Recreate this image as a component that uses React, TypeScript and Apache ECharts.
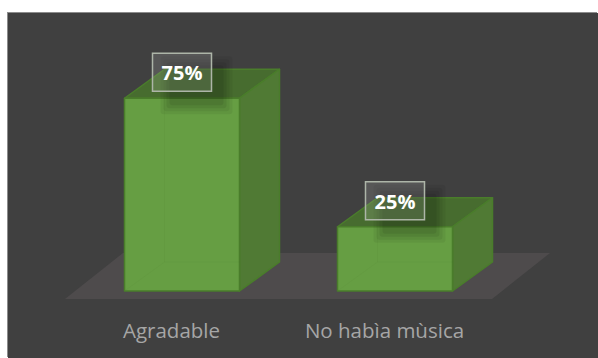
import React, { useEffect, useRef } from "react";
import * as echarts from "echarts";

const categories = ["Agradable", "No habìa mùsica"];
const shares = [75, 25];

const DEPTH_X = 40;
const DEPTH_Y = 29;
const BAR_WIDTH = 115;
const BAR_SHIFT = 10.5;

// Nested layers that build the soft shadow under each value label: [inset, opacity]
const SHADOW_LAYERS = [
  [0, 0.05],
  [3, 0.06],
  [6, 0.07],
  [9, 0.07],
];

const pts = (...p: number[][]) => ({ points: p });

function renderFloor(params: any) {
  const { x, y, width, height } = params.coordSys;
  const bottom = y + height + 8;
  return {
    type: "polygon",
    shape: pts(
      [x, bottom],
      [x + 58, bottom - 46],
      [x + width + 59, bottom - 46],
      [x + width + 1, bottom]
    ),
    style: { fill: "#4e4b4c" },
  };
}

function renderBar(_: any, api: any) {
  const base = api.coord([api.value(0), 0]);
  const top = api.coord([api.value(0), api.value(1)]);
  const l = base[0] + BAR_SHIFT - BAR_WIDTH / 2;
  const r = l + BAR_WIDTH;
  const t = top[1];
  const b = base[1];
  const edge = { stroke: "#4a7d2b", lineWidth: 1.5, lineJoin: "round" };
  const labelX = l + 28;
  const labelY = t - 45;
  const faint = { stroke: "rgba(74,125,43,0.09)", lineWidth: 1 };
  return {
    type: "group",
    children: [
      {
        type: "polygon",
        shape: pts([l, t], [l + DEPTH_X, t - DEPTH_Y], [r + DEPTH_X, t - DEPTH_Y], [r, t]),
        style: { fill: "#476c2f", ...edge },
      },
      {
        type: "polygon",
        shape: pts([r, t], [r + DEPTH_X, t - DEPTH_Y], [r + DEPTH_X, b - DEPTH_Y], [r, b]),
        style: { fill: "#507a34", ...edge },
      },
      {
        type: "rect",
        shape: { x: l, y: t, width: BAR_WIDTH, height: b - t },
        style: { fill: "#669e43", ...edge },
      },
      // hidden back edges, faintly visible through the front face
      {
        type: "polyline",
        shape: pts([l, b], [l + DEPTH_X, b - DEPTH_Y], [r, b - DEPTH_Y]),
        style: { fill: "none", ...faint },
      },
      {
        type: "line",
        shape: { x1: l + DEPTH_X, y1: t, x2: l + DEPTH_X, y2: b - DEPTH_Y },
        style: faint,
      },
      // soft shadow cast by the value label
      ...SHADOW_LAYERS.map(([inset, opacity]) => ({
        type: "rect",
        shape: {
          x: labelX + 8 + inset,
          y: labelY + 3 + inset,
          width: 72 - 2 * inset,
          height: 58 - 2 * inset,
          r: 3,
        },
        style: { fill: `rgba(0,0,0,${opacity})` },
      })),
      {
        type: "rect",
        shape: { x: labelX, y: labelY, width: 59, height: 38 },
        style: {
          fill: "rgba(255,255,255,0.12)",
          stroke: "#adb5a8",
          lineWidth: 1.5,
        },
      },
      {
        type: "text",
        style: {
          x: labelX + 29.5,
          y: labelY + 19.5,
          text: api.value(1) + "%",
          fill: "#ffffff",
          font: "bold 20px 'Open Sans'",
          align: "center",
          verticalAlign: "middle",
        },
      },
    ],
  };
}

export default function App() {
  const ref = useRef<HTMLDivElement>(null);
  useEffect(() => {
    const chart = echarts.init(ref.current!, null, { renderer: "svg" });
    chart.setOption({
      animation: false,
      backgroundColor: "#404040",
      grid: { left: 57, right: 107, top: 21, bottom: 67 },
      xAxis: {
        type: "category",
        data: categories,
        axisLine: { show: false },
        axisTick: { show: false },
        axisLabel: {
          color: "#a6a6a6",
          fontFamily: "Open Sans",
          fontSize: 20.5,
          margin: 28,
        },
      },
      yAxis: { type: "value", min: 0, max: 100, show: false },
      series: [
        {
          type: "custom",
          data: [0],
          renderItem: renderFloor,
          silent: true,
          z: 1,
        },
        {
          type: "custom",
          data: categories.map((_, i) => [i, shares[i]]),
          encode: { x: 0, y: 1 },
          renderItem: renderBar,
          z: 2,
        },
      ],
    });
    return () => chart.dispose();
  }, []);
  return (
    <div
      style={{
        position: "absolute",
        left: 8,
        top: 13,
        width: 590,
        height: 345,
        boxShadow: "-1px -1px 0 #8c8c8c",
      }}
    >
      <div ref={ref} style={{ width: "100%", height: "100%" }} />
    </div>
  );
}
